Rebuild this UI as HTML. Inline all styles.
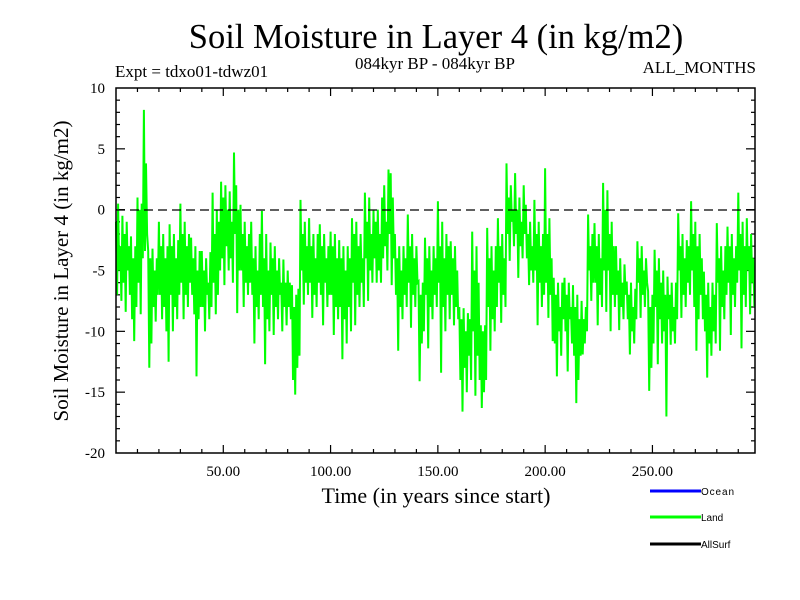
<!DOCTYPE html>
<html><head><meta charset="utf-8"><style>
body{margin:0;background:#fff;}
svg{display:block;font-family:"Liberation Serif",serif;}
</style></head><body>
<svg id="chart" width="800" height="600" viewBox="0 0 800 600">
<text x="436" y="48" font-size="34.5" text-anchor="middle">Soil Moisture in Layer 4 (in kg/m2)</text>
<text x="115" y="77" font-size="17">Expt = tdxo01-tdwz01</text>
<text x="435" y="69" font-size="17" text-anchor="middle">084kyr BP - 084kyr BP</text>
<text x="756" y="73" font-size="17" text-anchor="end">ALL_MONTHS</text>
<text transform="translate(68,271) rotate(-90)" font-size="21" text-anchor="middle">Soil Moisture in Layer 4 (in kg/m2)</text>
<text x="436" y="503" font-size="22" text-anchor="middle">Time (in years since start)</text>
<g id="ticks"></g>
<g id="series"></g>
<line x1="116" y1="210" x2="755" y2="210" stroke="#000" stroke-width="1.2" stroke-dasharray="9,5"/>
<rect x="116" y="88" width="639" height="365" fill="none" stroke="#000" stroke-width="1.5"/>
<g font-family="Liberation Sans, sans-serif" font-size="10">
<g><line x1="650" y1="491" x2="701" y2="491" stroke="#0000ff" stroke-width="3"/><text x="701" y="495" textLength="33">Ocean</text></g>
<g><line x1="650" y1="517" x2="701" y2="517" stroke="#00ff00" stroke-width="3"/><text x="701" y="521">Land</text></g>
<g><line x1="650" y1="544" x2="701" y2="544" stroke="#000" stroke-width="3"/><text x="701" y="548">AllSurf</text></g>
</g>
</svg>
<script>
const xTickValues=[50,100,150,200,250];
const xTickLabels=["50.00","100.00","150.00","200.00","250.00"];
const yTickValues=[10,5,0,-5,-10,-15,-20];
const yTickLabels=["10","5","0","-5","-10","-15","-20"];
const timeStep=0.5;
const landValues=[
-1,-7,0.5,-5,-3,-7.5,
-0.5,-6,-2,-8.4,-1,-5,-3,-7,
-2.2,-9,-4,-10.8,-3,-8,
1,-6,0,-8.6,0.5,-4,
8.2,-3.4,3.8,-2,
-3.4,-13,-4,-11,
-3.2,-8,-5,-9.2,-4,-7,
-1,-7,-3,-9,-2,-8,-4,-10,-3,-12.5,
-1.2,-7,-3,-10,-2,-8,-4,-9,-2.5,-7,
0.5,-6,-2,-9,-1,-7,-3,-8,-2,-6,
-2.3,-7,-4,-8.6,-3,-13.7,-5,-9,-3.4,-8,
-3.4,-8,-5,-10,-4,-7,-6,-9,-3.5,-8,
1.4,-6,-2,-8.6,0,-7,-1,-5,
2.3,-4,1,-6.2,2,-3,0,-5,1.5,-4,-1,-6,
4.7,-2,2,-8.5,0,-5,
0.4,-5,-2,-8,-1,-6,-3,-7,-2,-6,
-1,-7,-4,-11,-3,-8,-5,-9,-2,-7,
-0.1,-8,-4,-12.7,-2,-9,-5,-10,
-2.7,-7,-4,-10.3,-3,-8,-5,-9,-4,-7,-6,-10,
-4.1,-8,-6,-9.5,-5,-8,-6,-9,
-6.2,-14,-8,-15.2,-7,-13,-6.5,-12,
0.8,-5,-2,-7.8,-1,-6,-3,-7,
-0.7,-6,-3,-8.9,-2,-7,-4,-8,-2,-6,
-1.2,-7,-3,-9.5,-2,-6,-4,-8,-3,-7,
-1.8,-7,-3,-10.3,-2,-8,-4,-9,
-2.5,-8,-4,-12.3,-3,-9,-5,-11,-3,-8,-4,-10,
-0.7,-6,-2,-9.5,-1,-7,-3,-8,-2,-6,-4,-8,
1.4,-4,-1,-7.5,1,-5,-2,-6,0,-4,-1,-6,
0,-5,-2,-6,1,-4,2,-3,-1,-5,3.3,-2,3,-6.2,1,-4,
-2,-7,-4,-11.6,-3,-8,-5,-9,-3,-7,-4,-8,
-0.4,-6,-3,-9.7,-2,-7,-4,-8,-3,-6,
-5.9,-14.1,-7,-11,-6,-10,
-2.3,-7,-4,-11.4,-3,-8,-5,-9,-3,-7,-4,-8,
0.7,-6,-3,-13.4,-1,-8,-4,-10,-2,-7,-3,-9,
-2.6,-7,-4,-9.5,-3,-8,-5,-9,
-8,-14,-9,-16.6,-8.1,-13,-10,-15,-8.5,-12,-9,-14,
-1.8,-10,-5,-15.3,-3,-12,-6,-14,
-9.5,-16.3,-10,-15,-9.5,-14,
-1.5,-8,-4,-11.6,-3,-9,-5,-10,-3,-8,
-0.7,-6,-3,-9.3,-2,-7,-4,-8,
3.8,-2,1,-4.2,2,-1,0,-3,
3,-2,0,-5.6,1,-3,-1,-4,2,-2,
0.4,-4,-2,-6.2,-1,-5,-3,-6,
0.8,-5,-2,-9.5,-1,-6,-3,-8,-2,-7,
3.4,-6,-2,-8.9,-0.7,-7,-4,-10.8,
-5.6,-11,-7,-13.7,-6,-10,-8,-12,-6,-9,
-5.6,-10,-7,-13.3,-6,-9,-8,-11,
-6.2,-12,-8,-15.9,-7,-14,-9,-12,
-7.5,-11.9,-9,-11,-8,-10,
-0.4,-5,-3,-7.5,-2,-6,
-1.1,-6,-3,-9.5,-2,-7,-4,-8,
2.2,-5,0,-8.4,
1.6,-5,-2,-10,-1,-7,-3,-8,
-3,-7,-5,-9.9,-4,-8,-6,-9,-4.5,-7,
-5.9,-9,-7,-11.9,-6,-10,-8,-11,-6.5,-9,
-2.6,-6,-4,-8.9,-3,-7,-5,-8,-4,-6,
-6.7,-14.9,-8,-13,-7,-11,
-3.3,-8,-5,-12.7,-4,-9,-6,-11,-5,-10,-7,-17,
-5.5,-9,-7,-11.1,-6,-10,-8,-11,-6,-9,
-0.3,-5,-3,-8.9,-2,-7,-4,-8,-2.5,-6,-3,-7,
0.7,-5,-2,-8,-1,-11.6,-3,-9,-2,-7,-4,-9,
-5.1,-10,-7,-13.8,-6,-11,-8,-12,-6,-10,-7,-11,
-1.1,-6,-4,-11.6,-3,-8,-5,-9,-3,-7,
-1.4,-6,-3,-10.3,-2,-7,-4,-8,-3,-6,
1.4,-5,-2,-11.4,-1,-7,-3,-8,
-0.7,-5,-3,-8.6,-2,-6,-4,-8
];
const X0=116,X1=755,Y0=88,Y1=453,XMIN=0,XMAX=297.8,YMIN=-20,YMAX=10;
function xs(v){return X0+(v-XMIN)/(XMAX-XMIN)*(X1-X0);}
function ys(v){return Y1-(v-YMIN)/(YMAX-YMIN)*(Y1-Y0);}
const NS="http://www.w3.org/2000/svg";
const tg=document.getElementById('ticks');
function ln(x1,y1,x2,y2){const l=document.createElementNS(NS,'line');l.setAttribute('x1',x1);l.setAttribute('y1',y1);l.setAttribute('x2',x2);l.setAttribute('y2',y2);l.setAttribute('stroke','#000');l.setAttribute('stroke-width','1.2');


tg.appendChild(l);}
function tx(x,y,s,anchor){const t=document.createElementNS(NS,'text');t.setAttribute('x',x);t.setAttribute('y',y);t.setAttribute('font-size','15');t.setAttribute('text-anchor',anchor);t.textContent=s;


tg.appendChild(t);}
for(let v=10;v<XMAX;v+=10){const x=xs(v);const L=(v%50===0)?8:4;ln(x,Y1,x,Y1-L);ln(x,Y0,x,Y0+L);}
for(let v=YMIN+1;v<YMAX;v+=1){const y=ys(v);const L=(v%5===0)?9:4;ln(X0,y,X0+L,y);ln(X1,y,X1-L,y);}
xTickValues.forEach((v,i)=>tx(xs(v),476,xTickLabels[i],'middle'));
yTickValues.forEach((v,i)=>tx(105,ys(v)+5,yTickLabels[i],'end'));
const pts=landValues.map((v,i)=>xs(i*timeStep).toFixed(1)+','+ys(v).toFixed(1)).join(' ');
const pl=document.createElementNS(NS,'polyline');
pl.setAttribute('points',pts);pl.setAttribute('fill','none');pl.setAttribute('stroke','#00ff00');pl.setAttribute('stroke-width','2');pl.setAttribute('stroke-linejoin','miter');


document.getElementById('series').appendChild(pl);
</script>
</body></html>
